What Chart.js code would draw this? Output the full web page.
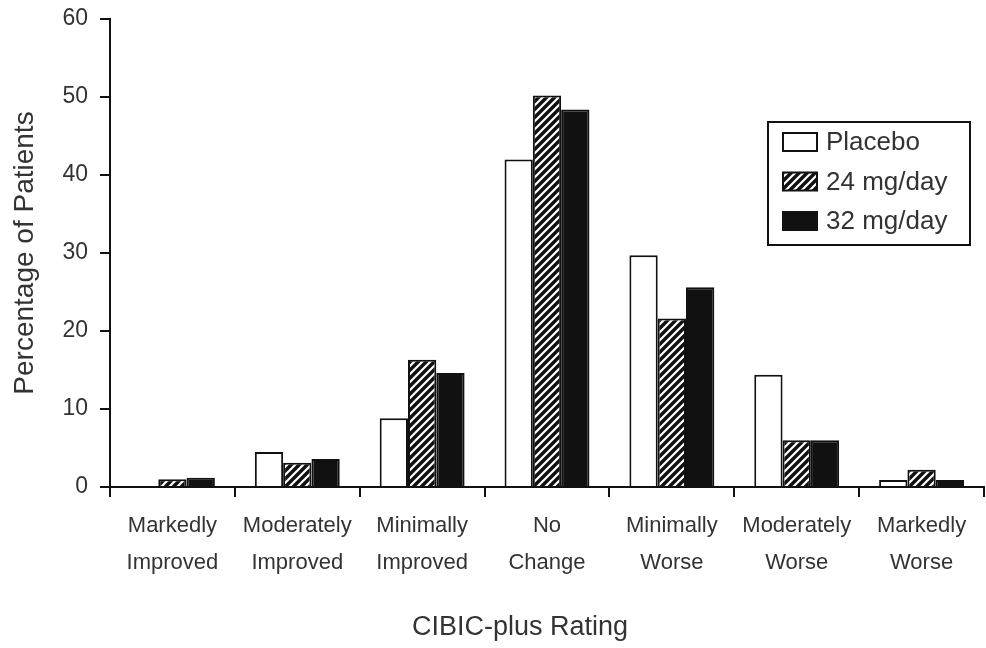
<!DOCTYPE html>
<html>
<head>
<meta charset="utf-8">
<script src="https://cdn.jsdelivr.net/npm/chart.js@4/dist/chart.umd.min.js"></script>
<style>
  html, body { margin: 0; padding: 0; background: #fff; }
  #wrap { width: 986px; height: 648px; }
</style>
</head>
<body>
<div id="wrap"><canvas id="cibicChart" width="986" height="648"></canvas></div>
<script>
// data
var ratings = [
    ['Markedly', 'Improved'],
    ['Moderately', 'Improved'],
    ['Minimally', 'Improved'],
    ['No', 'Change'],
    ['Minimally', 'Worse'],
    ['Moderately', 'Worse'],
    ['Markedly', 'Worse']
];
var placebo = [0, 4.5, 8.8, 42, 29.7, 14.4, 0.9];
var dose24 = [1.0, 3.1, 16.3, 50.2, 21.6, 6.0, 2.2];
var dose32 = [1.2, 3.6, 14.6, 48.4, 25.6, 6.0, 0.9];
var seriesNames = ['Placebo', '24 mg/day', '32 mg/day'];
var yTicks = [0, 10, 20, 30, 40, 50, 60];
var xTitle = 'CIBIC-plus Rating';

var fontFamily = '"Liberation Sans", Arial, sans-serif';

// hatch for the 24 mg bars
function makeHatch() {
    var c = document.createElement('canvas');
    c.width = 8; c.height = 8;
    var g = c.getContext('2d');
    g.fillStyle = '#111';
    g.fillRect(0, 0, 8, 8);
    g.strokeStyle = '#fff';
    g.lineWidth = 2.2;
    g.beginPath();
    g.moveTo(-2, 10); g.lineTo(10, -2);
    g.moveTo(-6, 6); g.lineTo(6, -6);
    g.moveTo(2, 14); g.lineTo(14, 2);
    g.stroke();
    return g.createPattern(c, 'repeat');
}
var hatch = makeHatch();
var fills = ['#fff', hatch, '#111'];

// boxed legend inside the plot + x title (sits a bit left of centre in the original)
var legendBox = {
    id: 'legendBox',
    afterDraw: function (chart) {
        var ctx = chart.ctx;
        var area = chart.chartArea;
        var x0 = area.right - 216, y0 = area.top + 103;
        ctx.save();
        ctx.strokeStyle = '#111';
        ctx.lineWidth = 2;
        ctx.strokeRect(x0, y0, 202, 123);
        ctx.font = '26px ' + fontFamily;
        ctx.textBaseline = 'middle';
        chart.data.datasets.forEach(function (ds, i) {
            var cy = y0 + 20 + i * 39.5;
            ctx.fillStyle = ds.backgroundColor;
            ctx.fillRect(x0 + 15, cy - 9, 34, 18);
            ctx.lineWidth = 2;
            ctx.strokeStyle = '#111';
            ctx.strokeRect(x0 + 15, cy - 9, 34, 18);
            ctx.fillStyle = '#333';
            ctx.fillText(ds.label, x0 + 58, cy + 1);
        });

        ctx.font = '27px ' + fontFamily;
        ctx.textAlign = 'center';
        ctx.fillStyle = '#333';
        ctx.fillText(xTitle, area.left + 410, chart.height - 20);
        ctx.restore();
    }
};

var ctx = document.getElementById('cibicChart').getContext('2d');
var myChart = new Chart(ctx, {
    type: 'bar',
    data: {
        labels: ratings,
        datasets: [
            { label: seriesNames[0], data: placebo, backgroundColor: fills[0] },
            { label: seriesNames[1], data: dose24, backgroundColor: fills[1] },
            { label: seriesNames[2], data: dose32, backgroundColor: fills[2] }
        ]
    },
    options: {
        responsive: false,
        animation: false,
        layout: { padding: { top: 19, right: 2, left: 0, bottom: 0 } },
        datasets: {
            bar: {
                borderColor: '#111',
                borderWidth: 2,
                categoryPercentage: 0.68,
                barPercentage: 1.0
            }
        },
        plugins: {
            legend: { display: false },
            tooltip: { enabled: false }
        },
        scales: {
            x: {
                grid: {
                    offset: true,
                    drawOnChartArea: false,
                    drawTicks: true,
                    tickLength: 10,
                    color: '#111',
                    lineWidth: 2
                },
                border: { display: true, color: '#111', width: 2 },
                ticks: {
                    color: '#333',
                    font: { family: fontFamily, size: 22, lineHeight: 1.7 },
                    padding: 10,
                    maxRotation: 0,
                    autoSkip: false
                },
                afterFit: function (scale) { scale.height = 161; }
            },
            y: {
                min: 0,
                max: 60,
                afterBuildTicks: function (scale) {
                    scale.ticks = yTicks.map(function (v) { return { value: v }; });
                },
                grid: {
                    drawOnChartArea: false,
                    drawTicks: true,
                    tickLength: 10,
                    color: '#111',
                    lineWidth: 2
                },
                border: { display: true, color: '#111', width: 2 },
                ticks: {
                    color: '#333',
                    font: { family: fontFamily, size: 23 },
                    padding: 12
                },
                title: {
                    display: true,
                    text: 'Percentage of Patients',
                    color: '#333',
                    font: { family: fontFamily, size: 28 },
                    padding: { top: 8, bottom: 0 }
                },
                afterFit: function (scale) {
                    scale.width = 110;
                    scale.paddingTop = 0;
                    scale.paddingBottom = 0;
                }
            }
        }
    },
    plugins: [legendBox]
});
</script>
</body>
</html>
